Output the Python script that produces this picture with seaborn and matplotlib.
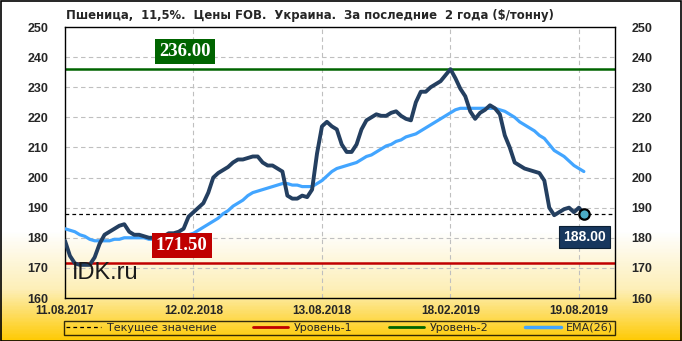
import numpy as np
import pandas as pd
import matplotlib
matplotlib.use("Agg")
import matplotlib.pyplot as plt
import seaborn as sns
from matplotlib.lines import Line2D
from matplotlib.colors import LinearSegmentedColormap

# ---------------- data (weekly) ----------------
price = [179, 174, 171.5, 171, 171, 171, 173.5, 178, 181, 182,
         183, 184, 184.5, 182, 181, 181, 180.5, 180, 180, 180,
         180.5, 181.5, 181.5, 182, 183, 187, 188.5, 190, 191.5, 195,
         200, 201.5, 202.5, 203.5, 205, 206, 206, 206.5, 207, 207,
         205, 204, 204, 203, 202, 194, 193, 193, 194, 193.5,
         196, 208, 217, 218.5, 217, 216, 211, 208.5, 208.5, 211,
         216, 219, 220, 221, 220.5, 220.5, 221.5, 222, 220.5, 219.5,
         219, 225, 228.5, 228.5, 230, 231, 232, 234, 236, 233,
         229.5, 227, 222, 219.5, 221.5, 222.5, 224, 223, 221, 214,
         210, 205, 204, 203, 202.5, 202, 201.5, 199, 190, 187.5,
         188.5, 189.5, 190, 188.5, 190, 188]
ema = [183, 182.5, 182, 181, 180.5, 179.5, 179, 179, 179, 179,
       179.5, 179.5, 180, 180, 180, 180, 180, 179.5, 179.5, 179.5,
       179.5, 179.5, 180, 180, 180.5, 181, 181.5, 182.5, 183.5, 184.5,
       185.5, 186.5, 188, 189, 190.5, 191.5, 192.5, 194, 195, 195.5,
       196, 196.5, 197, 197.5, 198, 198, 197.5, 197.5, 197, 197,
       197, 198, 199, 200.5, 202, 203, 203.5, 204, 204.5, 205,
       206, 207, 207.5, 208.5, 209.5, 210.5, 211, 212, 212.5, 213.5,
       214, 214.5, 215.5, 216.5, 217.5, 218.5, 219.5, 220.5, 221.5, 222.5,
       223, 223, 223, 223, 223, 223, 223, 223, 222.5, 222,
       221, 220, 218.5, 217.5, 216.5, 215.5, 214, 213, 211, 209,
       208, 207, 205.5, 204, 203, 202]
date_labels = ["11.08.2017", "12.02.2018", "13.08.2018", "18.02.2019", "19.08.2019"]
date_pos = [0, 26, 52, 78, 104]
yticks = [160, 170, 180, 190, 200, 210, 220, 230, 240, 250]
current_value = 188.0
level1 = 171.5
level2 = 236.0
title = "Пшеница,  11,5%.  Цены FOB.  Украина.  За последние  2 года ($/тонну)"
legend_labels = ["Текущее значение", "Уровень-1", "Уровень-2", "EMA(26)"]

df = pd.DataFrame({"week": np.arange(len(price)), "price": price, "ema": ema})

# ---------------- style ----------------
sns.set_theme(style="white")
plt.rcParams["font.family"] = ["Liberation Sans", "DejaVu Sans"]

W, H = 682, 341
fig = plt.figure(figsize=(W / 100, H / 100), dpi=100)

# background gradient (white -> yellow at the bottom)
bg = fig.add_axes([0, 0, 1, 1], zorder=-10)
cmap = LinearSegmentedColormap.from_list(
    "bgy", [(0.0, "#FFFFFF"), (0.68, "#FFFFFF"), (0.85, "#FDEFB8"), (1.0, "#FFCB05")])
grad = np.linspace(0, 1, 341).reshape(-1, 1)
bg.imshow(grad, aspect="auto", cmap=cmap, extent=[0, 1, 0, 1], origin="upper")
bg.set_xlim(0, 1)
bg.set_ylim(0, 1)
bg.axis("off")
fig.patches.append(plt.Rectangle((0.5 / W, 0.5 / H), 1 - 1.5 / W, 1 - 1.5 / H,
                                 transform=fig.transFigure, fill=False,
                                 edgecolor="black", linewidth=1.2))

ax = fig.add_axes([65 / W, (H - 298) / H, 550 / W, 271 / H])
ax.set_facecolor("none")

# grid
for v in yticks[1:-1]:
    ax.axhline(v, color="#BFBFBF", lw=0.8, ls=(0, (4, 3)), zorder=1)
for p in date_pos[1:]:
    ax.axvline(p, color="#BFBFBF", lw=0.8, ls=(0, (4, 3)), zorder=1)

# level lines
ax.axhline(level2, color="#006400", lw=1.8, zorder=2)
ax.axhline(level1, color="#C00000", lw=1.8, zorder=2)
ax.axhline(current_value, color="black", lw=0.9, ls=(0, (3, 2.5)), zorder=2)

sns.lineplot(data=df, x="week", y="ema", ax=ax, color="#42A5FF", lw=2.3, zorder=3)
sns.lineplot(data=df, x="week", y="price", ax=ax, color="#243F60", lw=2.8, zorder=4,
             solid_joinstyle="round")
ax.plot(df["week"].iloc[-1], df["price"].iloc[-1], "o", ms=7.5, mfc="#4BACC6",
        mec="black", mew=1.6, zorder=6)

ax.set_xlim(0, 111.3)
ax.set_ylim(160, 250)
ax.set_xticks(date_pos)
ax.set_xticklabels(date_labels, fontsize=8.5, fontweight="bold")
ax.set_yticks(yticks)
ax.set_yticklabels([str(v) for v in yticks], fontsize=9, fontweight="bold")
ax.tick_params(axis="y", length=0, pad=12, labelright=True, right=False)
ax.tick_params(axis="y", which="both", labelleft=True)
ax.tick_params(axis="x", length=0, pad=5)
for lbl in ax.get_yticklabels(which="both"):
    lbl.set_fontweight("bold")
ax.set_xlabel("")
ax.set_ylabel("")
for s in ax.spines.values():
    s.set_color("black")
    s.set_linewidth(1.0)
    s.set_visible(True)

# value boxes
ax.text(24.3, 241.8, "236.00", ha="center", va="center", color="white",
        fontsize=13.5, fontweight="bold", family="Liberation Serif", zorder=7,
        bbox=dict(boxstyle="square,pad=0.22", fc="#006400", ec="none"))
ax.text(23.6, 177.5, "171.50", ha="center", va="center", color="white",
        fontsize=13.5, fontweight="bold", family="Liberation Serif", zorder=7,
        bbox=dict(boxstyle="square,pad=0.22", fc="#C00000", ec="none"))
ax.text(105.1, 180.3, "188.00", ha="center", va="center", color="white",
        fontsize=10, fontweight="bold", zorder=7,
        bbox=dict(boxstyle="square,pad=0.3", fc="#17375E", ec="#0B1F33", lw=0.8))

fig.text(72 / W, 1 - 279 / H, "IDK.ru", fontsize=17, color="#1A1A1A",
         va="baseline", ha="left", zorder=5)

fig.text(66 / W, 1 - 15 / H, title, fontsize=8.4, fontweight="bold",
         ha="left", va="center", family=["DejaVu Sans"])

handles = [Line2D([], [], color="black", lw=0.9, ls=(0, (3, 2.5))),
           Line2D([], [], color="#C00000", lw=2),
           Line2D([], [], color="#006400", lw=2),
           Line2D([], [], color="#42A5FF", lw=2.5)]
leg = fig.legend(handles, legend_labels, loc="center",
                 bbox_to_anchor=(64 / W, 6 / H, 551 / W, 14 / H), mode="expand",
                 ncol=4, frameon=True, fancybox=False,
                 prop={"family": "DejaVu Sans", "size": 8},
                 handlelength=3.2, handletextpad=0.5, borderpad=0.15,
                 borderaxespad=0, columnspacing=1.0)
leg.get_frame().set_edgecolor("black")
leg.get_frame().set_facecolor("none")
leg.get_frame().set_linewidth(1.0)

fig.savefig("out.png", dpi=100)
